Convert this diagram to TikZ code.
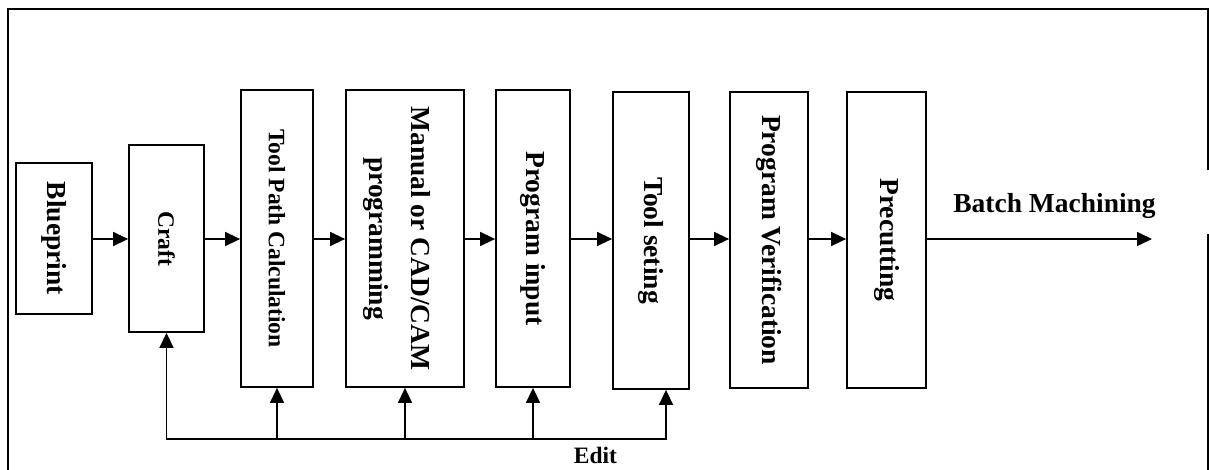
\documentclass[tikz,border=0pt]{standalone}
\usepackage{fontspec}
\setmainfont{Liberation Serif}
\usetikzlibrary{arrows.meta}
\begin{document}
\begin{tikzpicture}[x=1pt,y=-1pt,
  >={Triangle[length=15pt,width=14pt]},
  stage/.style={draw,line width=1.8pt,rectangle,inner sep=0pt,
    font=\bfseries\fontsize{27.5}{33}\selectfont},
  smalltext/.style={font=\bfseries\fontsize{23.5}{28}\selectfont},
  bigtext/.style={font=\bfseries\fontsize{27.5}{33}\selectfont},
  flow/.style={line width=1.5pt,->},
  frame/.style={line width=2pt}]

% page area
\useasboundingbox (0,0) rectangle (1209,470);

% outer frame, open on the right where the output leaves
\draw[frame] (8,471) -- (8,9) -- (1207.5,9) -- (1207.5,170);
\draw[frame] (1207.5,234) -- (1207.5,471);

% process stages
\node[stage,minimum width=76pt,minimum height=151pt] (blue) at (54,238.5)
  {\rotatebox{-90}{Blueprint}};
\node[stage,smalltext,minimum width=75pt,minimum height=187pt] (craft) at (166.5,238.5)
  {\rotatebox{-90}{Craft}};
\node[stage,smalltext,minimum width=72pt,minimum height=297pt] (path) at (277,238.5)
  {\rotatebox{-90}{Tool Path Calculation}};
\node[stage,minimum width=118pt,minimum height=297pt] (manual) at (405,238.5) {};
\node[font=\bfseries\fontsize{27.5}{41.5}\selectfont,inner sep=0pt] (manualtxt)
  at ([xshift=-6pt]manual.center)
  {\rotatebox{-90}{\begin{tabular}{@{}c@{}}Manual or CAD/CAM\\programming\end{tabular}}};
\node[stage,minimum width=74pt,minimum height=297pt] (input) at (533,238.5)
  {\rotatebox{-90}{Program input}};
\node[stage,minimum width=76pt,minimum height=297pt] (set) at (651,240.5)
  {\rotatebox{-90}{Tool seting}};
\node[stage,minimum width=78pt,minimum height=296pt] (verify) at (769,240)
  {\rotatebox{-90}{Program Verification}};
\node[stage,minimum width=79pt,minimum height=296pt] (pre) at (886.5,240)
  {\rotatebox{-90}{Precutting}};

% main flow
\coordinate (axis) at (0,239);
\draw[flow] (blue.east |- axis) -- (craft.west |- axis);
\draw[flow] (craft.east |- axis) -- (path.west |- axis);
\draw[flow] (path.east |- axis) -- (manual.west |- axis);
\draw[flow] (manual.east |- axis) -- (input.west |- axis);
\draw[flow] (input.east |- axis) -- (set.west |- axis);
\draw[flow] (set.east |- axis) -- (verify.west |- axis);
\draw[flow] (verify.east |- axis) -- (pre.west |- axis);
\coordinate (batchend) at (1152,239);
\draw[flow] (pre.east |- axis) -- (batchend);
\node[bigtext,anchor=base,inner sep=0pt] (batch) at (1054.5,213) {Batch Machining};

% edit feedback loop
\coordinate (loop) at (0,439);
\coordinate (setin) at ([xshift=15pt]set.south);
\draw[line width=1.5pt,line join=miter,<->]
  (craft.south) -- (craft.south |- loop) -- (setin |- loop) -- (setin);
\draw[flow] (path.south |- loop) -- (path.south);
\draw[flow] (manual.south |- loop) -- (manual.south);
\draw[flow] (input.south |- loop) -- (input.south);
\node[smalltext,anchor=base,inner sep=0pt] (edit) at (595.5,463) {Edit};

\end{tikzpicture}
\end{document}
